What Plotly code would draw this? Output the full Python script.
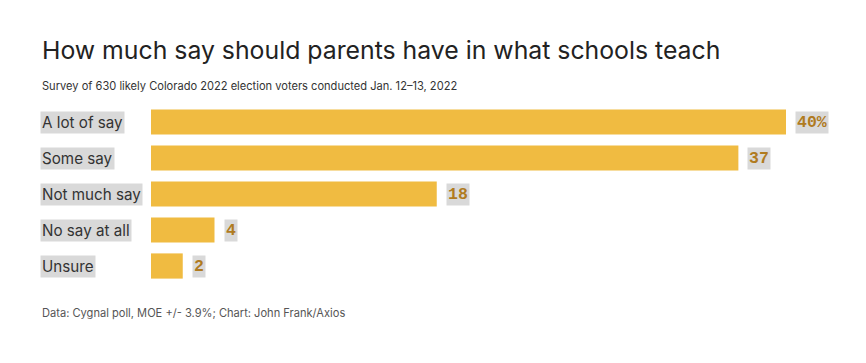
import plotly.graph_objects as go

categories = ["A lot of say", "Some say", "Not much say", "No say at all", "Unsure"]
values = [40, 37, 18, 4, 2]
value_labels = ["40%", "37", "18", "4", "2"]

title = "How much say should parents have in what schools teach"
subtitle = "Survey of 630 likely Colorado 2022 election voters conducted Jan. 12–13, 2022"
footer = "Data: Cygnal poll, MOE +/- 3.9%; Chart: John Frank/Axios"

OFF = 8  # page body margin
W, H = 866 - OFF, 363 - OFF
L, T = 151 - OFF, 104 - OFF
plot_w, plot_h = 635, 180
R = W - L - plot_w
B = H - T - plot_h
LEFT_X = (42 - 151) / plot_w
FONT = "Inter, Roboto, sans-serif"

fig = go.Figure(go.Bar(
    x=values, y=categories, orientation="h",
    marker=dict(color="#f0bb41", line=dict(width=0)),
    width=0.7, hoverinfo="skip",
))

ann = []
for c, v, lab in zip(categories, values, value_labels):
    ann.append(dict(x=LEFT_X, xref="paper", y=c, yref="y", text=c, xshift=-2,
                    xanchor="left", yanchor="middle", showarrow=False,
                    font=dict(family=FONT, size=15.2, color="#333333"),
                    bgcolor="#d9d9d9", borderpad=1))
    ann.append(dict(x=v, xref="x", y=c, yref="y", text="<b>" + lab + "</b>",
                    xanchor="left", yanchor="middle", showarrow=False, xshift=9,
                    font=dict(family="Liberation Mono, Courier New, monospace", size=16.5, color="#b07b1f"),
                    bgcolor="#d9d9d9", borderpad=1))

ann.append(dict(x=LEFT_X, xref="paper", y=1, yref="paper", yshift=54, xshift=-2, text=title,
                xanchor="left", yanchor="middle", showarrow=False,
                font=dict(family=FONT, size=24.8, color="#222222")))
ann.append(dict(x=LEFT_X, xref="paper", y=1, yref="paper", yshift=18, xshift=-2, text=subtitle,
                xanchor="left", yanchor="middle", showarrow=False,
                font=dict(family=FONT, size=11.1, color="#333333")))
ann.append(dict(x=LEFT_X, xref="paper", y=0, yref="paper", yshift=-29, xshift=-2, text=footer,
                xanchor="left", yanchor="middle", showarrow=False,
                font=dict(family=FONT, size=11.1, color="#555555")))

fig.update_layout(
    width=W, height=H,
    margin=dict(l=L, r=R, t=T, b=B),
    paper_bgcolor="white", plot_bgcolor="white",
    showlegend=False,
    xaxis=dict(range=[0, 40], visible=False, fixedrange=True),
    yaxis=dict(autorange="reversed", visible=False, fixedrange=True),
    annotations=ann,
)

fig.write_html("out.html")
